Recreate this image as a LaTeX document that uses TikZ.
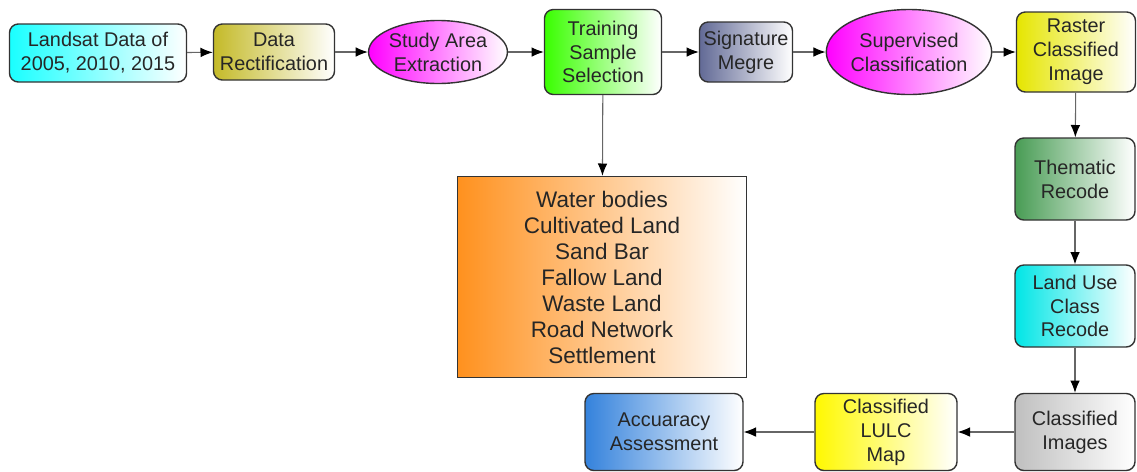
\documentclass[tikz,border=0pt]{standalone}
\usepackage{fontspec}
\setmainfont{Liberation Sans}
\usetikzlibrary{arrows.meta,shapes.geometric}
\definecolor{olivey}{RGB}{196,186,40}
\definecolor{slate}{RGB}{98,106,150}
\definecolor{thgreen}{RGB}{72,156,84}
\definecolor{orng}{RGB}{255,145,30}
\definecolor{accblue}{RGB}{52,130,220}

\begin{document}
\begin{tikzpicture}[x=0.02cm,y=-0.02cm,
  every node/.style={font=\fontsize{11.3}{13.6}\selectfont,text=black!85,align=center},
  box/.style={draw=black!80,line width=0.8pt,rounded corners=5pt,right color=white,inner sep=0pt},
  oval/.style={draw=black!80,line width=0.8pt,ellipse,right color=white,inner sep=0pt},
  flow/.style={draw=black!60,line width=0.6pt,-{Latex[length=7pt,width=5.5pt,color=black]}}]
\useasboundingbox (0,0) rectangle (1137,471);
% top row
\node[box,left color=cyan!90!white,minimum width=177*0.02cm,minimum height=58*0.02cm] (land) at (98,53) {Landsat Data of\\2005, 2010, 2015};
\node[box,left color=olivey,minimum width=121*0.02cm,minimum height=56*0.02cm] (rect) at (274,52) {Data\\Rectification};
\node[oval,left color=magenta,minimum width=133*0.02cm,minimum height=63*0.02cm] (study) at (438,52) {Study Area\\Extraction};
\node[box,left color=green!70!lime,minimum width=117*0.02cm,minimum height=85*0.02cm] (train) at (603,52) {Training\\Sample\\Selection};
\node[box,left color=slate,minimum width=93*0.02cm,minimum height=60*0.02cm] (sign) at (746,52) {Signature\\Megre};
\node[oval,left color=magenta,minimum width=160*0.02cm,minimum height=85*0.02cm] (super) at (909,52) {Supervised\\Classification};
\node[box,left color=yellow!90!black,minimum width=119*0.02cm,minimum height=80*0.02cm] (raster) at (1076,52) {Raster\\Classified\\Image};
% right column
\node[box,left color=thgreen,minimum width=120*0.02cm,minimum height=82*0.02cm] (them) at (1075,179) {Thematic\\Recode};
\node[box,left color=cyan!80!teal,minimum width=120*0.02cm,minimum height=82*0.02cm] (luse) at (1075,306) {Land Use\\Class\\Recode};
\node[box,left color=black!25,minimum width=120*0.02cm,minimum height=77*0.02cm] (cimg) at (1075,432) {Classified\\Images};
% bottom row
\node[box,left color=yellow!95!orange,minimum width=142*0.02cm,minimum height=77*0.02cm] (lulc) at (886,432) {Classified\\LULC\\Map};
\node[box,left color=accblue,minimum width=158*0.02cm,minimum height=77*0.02cm] (acc) at (664,432) {Accuaracy\\Assessment};
% classes
\node[draw=black!80,line width=0.8pt,left color=orng,right color=white,minimum width=289*0.02cm,minimum height=201*0.02cm,
  font=\fontsize{12.8}{14.8}\selectfont] (cls) at (602,277)
  {Water bodies\\Cultivated Land\\Sand Bar\\Fallow Land\\Waste Land\\Road Network\\Settlement};
\draw[flow] (land)--(rect);
\draw[flow] (rect)--(study);
\draw[flow] (study)--(train);
\draw[flow] (train)--(sign);
\draw[flow] (sign)--(super);
\draw[flow] (super)--(raster);
\draw[flow] (train)--(cls);
\draw[flow] (raster)--(them);
\draw[flow] (them)--(luse);
\draw[flow] (luse)--(cimg);
\draw[flow] (cimg)--(lulc);
\draw[flow] (lulc)--(acc);
\end{tikzpicture}
\end{document}
